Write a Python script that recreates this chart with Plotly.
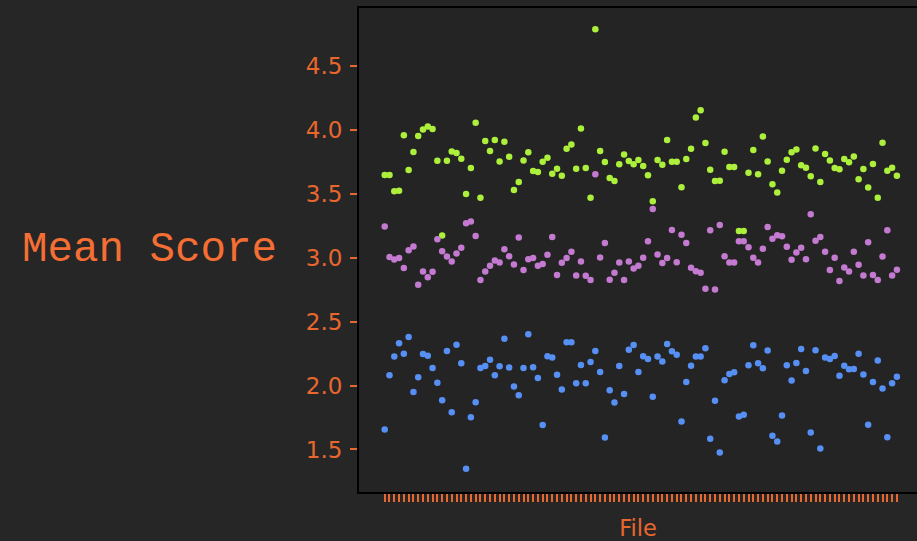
import plotly.graph_objects as go

files = [f"file_{i + 1:03d}" for i in range(108)]

green_scores = [
    3.649, 3.649, 3.521, 3.526, 3.959, 3.688, 3.828, 3.953, 4.005, 4.029,
    4.008, 3.761, 3.175, 3.761, 3.833, 3.820, 3.776, 3.500, 3.703, 4.057,
    3.471, 3.914, 3.836, 3.922, 3.755, 3.909, 3.792, 3.531, 3.594, 3.763,
    3.826, 3.680, 3.672, 3.753, 3.784, 3.659, 3.698, 3.643, 3.854, 3.888,
    3.698, 4.013, 3.703, 3.471, 4.790, 3.836, 3.750, 3.625, 3.602, 3.732,
    3.810, 3.758, 3.732, 3.766, 3.719, 3.646, 3.443, 3.766, 3.729, 3.922,
    3.753, 3.753, 3.552, 3.774, 3.854, 4.099, 4.156, 3.899, 3.690, 3.602,
    3.604, 3.831, 3.711, 3.711, 3.211, 3.211, 3.667, 3.844, 3.654, 3.951,
    3.755, 3.576, 3.511, 3.682, 3.768, 3.826, 3.849, 3.724, 3.706, 3.638,
    3.857, 3.594, 3.813, 3.763, 3.703, 3.693, 3.774, 3.748, 3.794, 3.615,
    3.695, 3.550, 3.735, 3.471, 3.901, 3.682, 3.706, 3.643,
]

purple_scores = [
    3.245, 3.006, 2.987, 2.998, 2.920, 3.060, 3.089, 2.789, 2.894, 2.849,
    2.891, 3.146, 3.052, 3.011, 2.972, 3.034, 3.079, 3.271, 3.284, 3.172,
    2.826, 2.894, 2.938, 2.979, 2.964, 3.068, 3.013, 2.948, 3.159, 2.904,
    2.990, 2.998, 2.938, 2.951, 3.024, 3.164, 2.865, 2.961, 2.998, 3.047,
    2.862, 2.972, 2.860, 2.826, 3.654, 3.003, 3.117, 2.828, 2.883, 2.964,
    2.826, 2.972, 2.917, 2.938, 3.000, 3.130, 3.383, 3.026, 2.959, 2.998,
    3.219, 2.966, 3.180, 3.117, 2.922, 2.896, 2.883, 2.758, 3.216, 2.753,
    3.258, 3.013, 2.964, 2.964, 3.130, 3.130, 3.084, 3.000, 2.964, 3.071,
    3.242, 3.149, 3.177, 3.170, 3.086, 2.985, 3.042, 3.079, 2.990, 3.341,
    3.133, 3.164, 3.047, 2.904, 3.000, 2.818, 2.925, 2.894, 3.047, 2.946,
    2.862, 3.123, 2.865, 2.826, 3.011, 3.216, 2.862, 2.906,
]

blue_scores = [
    1.656, 2.081, 2.227, 2.331, 2.250, 2.380, 1.950, 2.066, 2.248, 2.234,
    2.138, 2.023, 1.886, 2.271, 1.792, 2.320, 2.175, 1.349, 1.753, 1.870,
    2.138, 2.154, 2.203, 2.081, 2.152, 2.367, 2.141, 1.992, 1.925, 2.138,
    2.401, 2.144, 2.060, 1.691, 2.230, 2.219, 2.084, 1.969, 2.339, 2.339,
    2.019, 2.162, 2.019, 2.185, 2.271, 2.107, 1.594, 1.964, 1.867, 2.154,
    1.935, 2.281, 2.318, 2.107, 2.230, 2.209, 1.912, 2.227, 2.188, 2.326,
    2.268, 2.242, 1.719, 2.029, 2.156, 2.227, 2.227, 2.292, 1.584, 1.881,
    1.477, 2.042, 2.091, 2.104, 1.758, 1.771, 2.159, 2.315, 2.175, 2.136,
    2.274, 1.607, 1.563, 1.766, 2.159, 2.039, 2.177, 2.287, 2.115, 1.633,
    2.276, 1.508, 2.219, 2.209, 2.232, 2.078, 2.156, 2.128, 2.130, 2.250,
    2.086, 1.693, 2.029, 2.196, 1.977, 1.596, 2.018, 2.070,
]

y_ticks = [1.5, 2.0, 2.5, 3.0, 3.5, 4.0, 4.5]

ORANGE = "#e8672e"
TITLE_ORANGE = "#f56e33"

fig = go.Figure()
for name, vals, color in [
    ("green", green_scores, "#adf03c"),
    ("purple", purple_scores, "#c47ad0"),
    ("blue", blue_scores, "#5690f5"),
]:
    fig.add_trace(go.Scatter(
        x=files, y=vals, mode="markers", name=name,
        marker=dict(size=6.5, color=color, line=dict(width=0)),
    ))

fig.update_layout(
    width=917, height=541,
    margin=dict(l=359, r=0, t=8, b=49),
    paper_bgcolor="#262626",
    plot_bgcolor="#242424",
    showlegend=False,
    font=dict(family="DejaVu Sans", color=ORANGE, size=22),
    annotations=[dict(
        text="Mean Score", xref="paper", yref="paper", x=-0.143, y=0.50,
        xanchor="right", yanchor="middle", showarrow=False,
        font=dict(family="Liberation Mono", size=42.5, color=TITLE_ORANGE),
    )],
)
fig.update_xaxes(
    type="category", categoryorder="array", categoryarray=files,
    range=[-5.37, 111.2],
    tickmode="array", tickvals=files,
    showticklabels=False, ticks="outside", ticklen=8, tickwidth=1.5,
    tickcolor=ORANGE, showgrid=False, zeroline=False,
    showline=True, linecolor="#000000", linewidth=2, mirror=True,
    title=dict(text="File", font=dict(size=22.5, color=ORANGE), standoff=19),
)
fig.update_yaxes(
    range=[1.167, 4.956], tickvals=y_ticks,
    ticktext=[f"{v:.1f}" for v in y_ticks],
    ticks="outside", ticklen=7, tickwidth=1.5, tickcolor=ORANGE,
    tickfont=dict(size=23, color=ORANGE), ticklabelstandoff=3,
    showgrid=False, zeroline=False,
    showline=True, linecolor="#000000", linewidth=2, mirror=False,
)

fig.write_html(
    "out.html",
    config={"displayModeBar": False},
    post_script="document.body.style.margin='0';document.body.style.background='#262626';",
)
